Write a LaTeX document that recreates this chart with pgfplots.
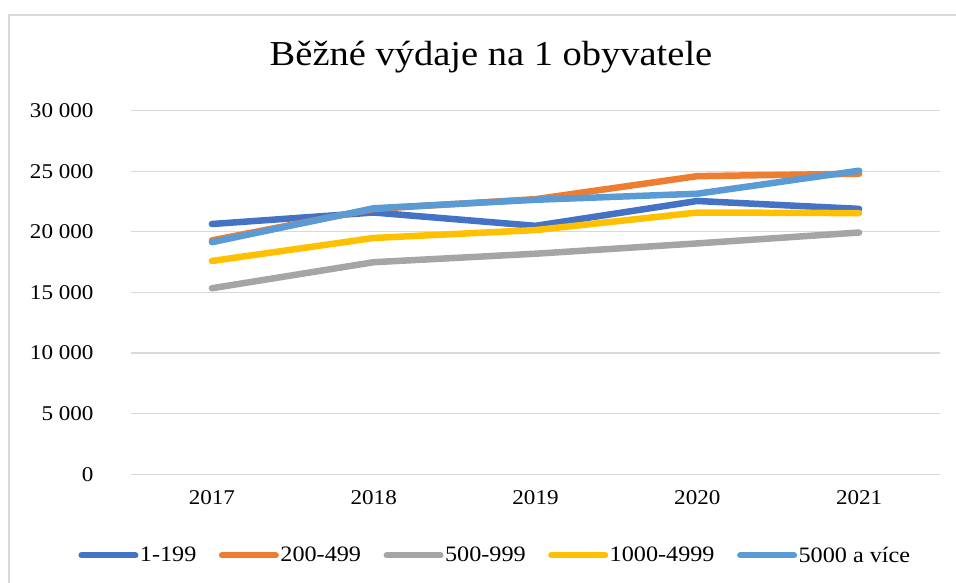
\documentclass[border=0pt]{standalone}
\usepackage{fontspec}
\setmainfont[FakeStretch=1.1]{Liberation Serif}
\usepackage{pgfplots}
\pgfplotsset{compat=1.18}
\definecolor{cA}{HTML}{4472C4}
\definecolor{cB}{HTML}{ED7D31}
\definecolor{cC}{HTML}{A5A5A5}
\definecolor{cD}{HTML}{FFC000}
\definecolor{cE}{HTML}{5B9BD5}
\definecolor{gridc}{HTML}{D9D9D9}
\begin{document}
\begin{tikzpicture}
\useasboundingbox (0,0) rectangle (956bp,583bp);
\draw[gridc, line width=1.5bp] (9bp,0bp) -- (9bp,568bp) -- (956bp,568bp);
\begin{axis}[
  at={(131bp,108.7bp)}, anchor=south west,
  scale only axis, width=809bp, height=363.6bp,
  xmin=-0.5, xmax=4.5, ymin=0, ymax=30000,
  scaled y ticks=false,
  xtick={0,1,2,3,4},
  xticklabels={2017,2018,2019,2020,2021},
  ytick={0,5000,10000,15000,20000,25000,30000},
  yticklabels={0,5~000,10~000,15~000,20~000,25~000,30~000},
  major tick length=0pt,
  axis line style={draw=none},
  ymajorgrids, grid style={gridc, line width=1.2bp},
  ticklabel style={font=\fontsize{21bp}{25bp}\selectfont},
  yticklabel style={anchor=east, xshift=-34bp},
  xticklabel style={anchor=north, yshift=-13bp},
  title={Běžné výdaje na 1 obyvatele},
  title style={at={(axis description cs:0.445,1.107)}, anchor=base, font=\fontsize{35bp}{40bp}\selectfont},
  legend columns=-1,
  legend style={at={(axis description cs:0.450,-0.223)}, anchor=center, draw=none,
    font=\fontsize{22bp}{26bp}\selectfont, nodes={inner sep=1.5bp},
    /tikz/every even column/.append style={column sep=21bp}},
  legend image code/.code={\draw[#1, line width=6bp, line cap=round] (0bp,0bp) -- (54bp,0bp);},
  ser/.style={line width=6.5bp, line cap=round, line join=round, #1},
]
\addplot[ser=cA] coordinates {(0,20650) (1,21600) (2,20500) (3,22550) (4,21900)};
\addlegendentry{1-199}
\addplot[ser=cB] coordinates {(0,19300) (1,21900) (2,22700) (3,24600) (4,24800)};
\addlegendentry{200-499}
\addplot[ser=cC] coordinates {(0,15350) (1,17500) (2,18200) (3,19050) (4,19950)};
\addlegendentry{500-999}
\addplot[ser=cD] coordinates {(0,17600) (1,19500) (2,20150) (3,21600) (4,21550)};
\addlegendentry{1000-4999}
\addplot[ser=cE] coordinates {(0,19150) (1,21950) (2,22650) (3,23150) (4,25050)};
\addlegendentry{5000 a více}
\end{axis}
\end{tikzpicture}
\end{document}
